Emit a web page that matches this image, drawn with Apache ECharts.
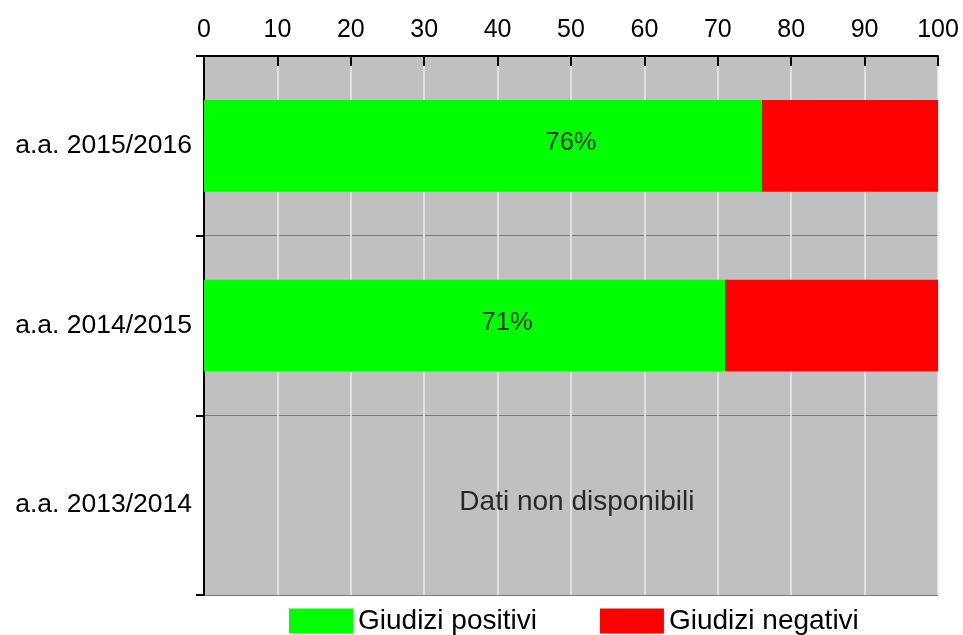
<!DOCTYPE html>
<html>
<head>
<meta charset="utf-8">
<script src="https://cdn.jsdelivr.net/npm/echarts@6/dist/echarts.min.js"></script>
<style>html,body{margin:0;padding:0;background:#fff;}#c{width:963px;height:635px;}</style>
</head>
<body>
<div id="c"></div>
<script>
const categories = ['a.a. 2015/2016', 'a.a. 2014/2015', 'a.a. 2013/2014'];
const positive = [76, 71, null];
const negative = [24, 29, null];
const noteText = ['76%', '71%', 'Dati non disponibili'];
const noteX = [50, 41.3, 50.8];
const xTicks = [0, 10, 20, 30, 40, 50, 60, 70, 80, 90, 100];

const FONT = 'Liberation Sans, Arial, sans-serif';
const chart = echarts.init(document.getElementById('c'), null, {renderer: 'canvas'});
chart.setOption({
  animation: false,
  backgroundColor: '#ffffff',
  textStyle: {fontFamily: FONT},
  grid: {left: 204, right: 25, top: 56, bottom: 40, show: true, backgroundColor: '#c0c0c0', borderWidth: 0},
  legend: {
    left: 284, top: 602,
    icon: 'rect', itemWidth: 64, itemHeight: 25, itemGap: 63,
    data: ['Giudizi positivi', 'Giudizi negativi'],
    textStyle: {fontSize: 28, color: '#000', fontFamily: FONT}
  },
  xAxis: {
    type: 'value', position: 'top', min: xTicks[0], max: xTicks[xTicks.length - 1], interval: 10,
    axisLine: {show: true, lineStyle: {color: '#000', width: 2}},
    axisTick: {show: true, inside: true, length: 10, lineStyle: {color: '#000', width: 2}},
    axisLabel: {fontSize: 25, color: '#000', margin: 13, fontFamily: FONT},
    splitLine: {show: true, lineStyle: {color: '#ececec', width: 1.5}}
  },
  yAxis: {
    type: 'category', data: categories, inverse: true,
    axisLine: {show: true, lineStyle: {color: '#000', width: 2}},
    axisTick: {show: true, inside: false, length: 8, lineStyle: {color: '#000', width: 2}},
    axisLabel: {fontSize: 26.5, color: '#000', margin: 12, fontFamily: FONT},
    splitLine: {show: true, lineStyle: {color: '#7a7a7a', width: 1}}
  },
  series: [
    {name: 'Giudizi positivi', type: 'bar', stack: 'a', data: positive, barWidth: '51%',
     itemStyle: {color: '#00ff00'}},
    {name: 'Giudizi negativi', type: 'bar', stack: 'a', data: negative, barWidth: '51%',
     itemStyle: {color: '#ff0000'}},
    {name: 'notes', type: 'scatter', symbolSize: 0, silent: true,
     data: categories.map((c, i) => ({value: [noteX[i], c], name: noteText[i],
       label: {fontSize: i === 2 ? 28 : 25.5}})),
     label: {show: true, position: 'inside', offset: [0, -3], formatter: p => p.name, color: '#000', textBorderWidth: 0, fontFamily: FONT},
     z: 10}
  ]
});
</script>
</body>
</html>
